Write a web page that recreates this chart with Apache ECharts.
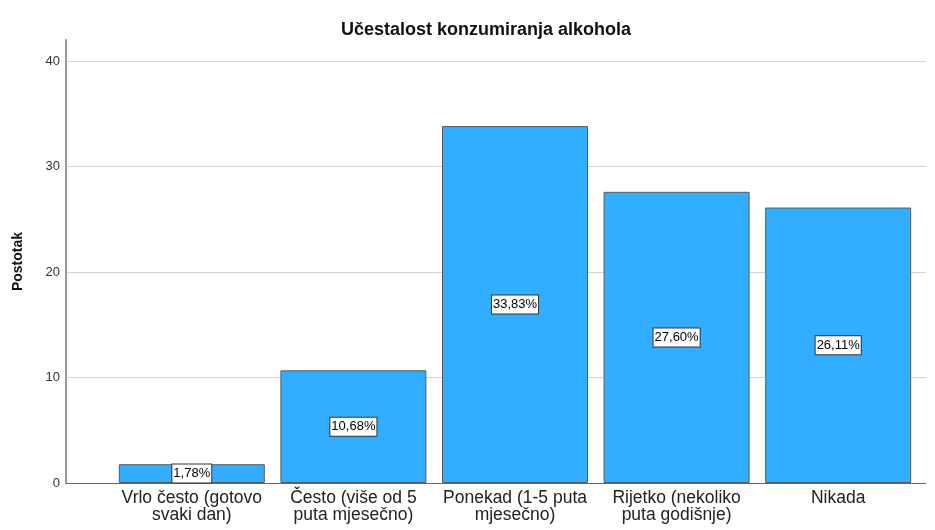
<!DOCTYPE html>
<html>
<head>
<meta charset="utf-8">
<script src="https://cdn.jsdelivr.net/npm/echarts@6/dist/echarts.min.js"></script>
<style>
html,body{margin:0;padding:0;background:#fff;}
#main{width:935px;height:530px;}
</style>
</head>
<body>
<div id="main"></div>
<script>
// kategorije i postoci
var categories = ["Vrlo često (gotovo\nsvaki dan)", "Često (više od 5\nputa mjesečno)", "Ponekad (1-5 puta\nmjesečno)", "Rijetko (nekoliko\nputa godišnje)", "Nikada"];
var percents = [1.78, 10.68, 33.83, 27.60, 26.11];
var yMax = 40;
var yStep = 10;

var font = "'Liberation Sans', Arial, sans-serif";

var option = {
	animation: false,
	title: {
		text: "Učestalost konzumiranja alkohola",
		left: 336,
		top: 16,
		textStyle: {fontFamily: font, fontSize: 18, fontWeight: 'bold', color: '#111'}
	},
	grid: [
		// samo y os (produžena iznad 40)
		{left: 66, right: 9, top: 40, bottom: 47},
		// stupci
		{left: 111, right: 16, top: 61, bottom: 47},
		// mreža, oznake i x linija
		{left: 66, right: 9, top: 61, bottom: 47}
	],
	xAxis: [{
		gridIndex: 0, type: 'value', min: 0, max: 1, show: false
	}, {
		gridIndex: 1,
		type: 'category',
		data: categories,
		axisLine: {show: false},
		axisTick: {show: false},
		axisLabel: {
			margin: 7,
			fontFamily: font, fontSize: 17.5, color: '#222', lineHeight: 17,
			interval: 0
		}
	}, {
		gridIndex: 2,
		type: 'value',
		min: 0, max: 1,
		axisLine: {show: true, lineStyle: {color: '#666', width: 1}},
		axisTick: {show: false},
		axisLabel: {show: false},
		splitLine: {show: false}
	}],
	yAxis: [{
		gridIndex: 0,
		type: 'value',
		min: 0, max: 42,
		name: 'Postotak',
		nameLocation: 'middle',
		nameGap: 41,
		nameTextStyle: {fontFamily: font, fontSize: 14, fontWeight: 'bold', color: '#111'},
		axisLine: {show: true, lineStyle: {color: '#999', width: 2}},
		axisTick: {show: false},
		axisLabel: {show: false},
		splitLine: {show: false}
	}, {
		gridIndex: 1,
		type: 'value',
		min: 0, max: yMax,
		show: false,
		splitLine: {show: false}
	}, {
		gridIndex: 2,
		type: 'value',
		min: 0, max: yMax, interval: yStep,
		axisLine: {show: false},
		axisTick: {show: false},
		axisLabel: {fontFamily: font, fontSize: 13, color: '#333', margin: 6},
		splitLine: {show: true, lineStyle: {color: '#d4d4d4', width: 1}}
	}],
	series: [{
		type: 'bar',
		xAxisIndex: 1,
		yAxisIndex: 1,
		data: percents,
		barWidth: 146,
		z: 3,
		itemStyle: {color: '#33adff', borderColor: '#5a5a5a', borderWidth: 1},
		label: {
			show: true,
			position: 'inside',
			formatter: function(p){ return p.value.toFixed(2).replace('.', ',') + '%'; },
			fontFamily: font, fontSize: 13, color: '#000',
			backgroundColor: '#fff',
			borderColor: '#333', borderWidth: 1,
			padding: [3, 1, 2, 1]
		}
	}]
};

var myChart = echarts.init(document.getElementById('main'));
myChart.setOption(option);
</script>
</body>
</html>
